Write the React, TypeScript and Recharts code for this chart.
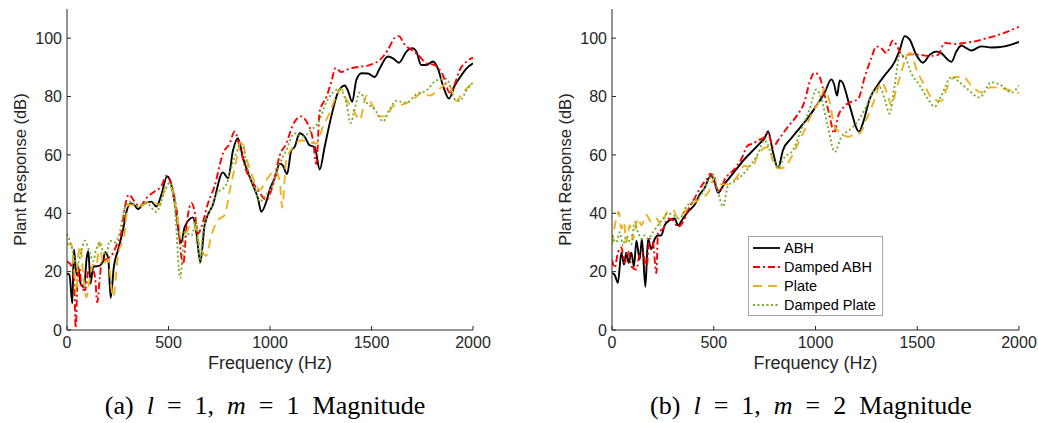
import React from 'react';
import { LineChart, Line, XAxis, YAxis, Legend } from 'recharts';

type Pt = [number, number];

const freqTicks = [0, 500, 1000, 1500, 2000];
const dbTicks = [0, 20, 40, 60, 80, 100];
const seriesNames = ['ABH', 'Damped ABH', 'Plate', 'Damped Plate'];

// (a) l = 1, m = 1
const abhA: Pt[] = [
  [0, 19.2], [12, 19], [26, 9.1], [34, 27.6], [47, 18.8], [55, 21.7], [67, 15.9], [84, 14.7], [97, 24.7],
  [105, 27], [116, 15.9], [129, 21.7], [158, 22], [178, 23.5], [187, 26.7], [203, 24.7], [215, 11], [231, 21.8],
  [252, 27.6], [277, 34.6], [293, 40.5], [313, 43.4], [330, 43], [350, 41.4], [374, 43], [415, 44], [440, 42.3],
  [465, 46.4], [493, 52.6], [506, 51.6], [530, 44], [563, 30], [580, 35.3], [621, 38.6], [637, 33.5], [657, 23.2],
  [678, 36], [719, 43], [768, 54], [793, 52], [818, 61.6], [842, 65.7], [867, 59], [908, 51], [941, 45],
  [957, 40.5], [982, 44], [998, 48], [1023, 52], [1048, 57], [1064, 56.3], [1084, 53.4], [1105, 61.6],
  [1121, 62.7], [1146, 67.4], [1171, 66.2], [1195, 63.3], [1220, 62.7], [1245, 55], [1269, 62.7], [1302, 73.2],
  [1335, 81.4], [1368, 83.8], [1384, 82], [1405, 78.2], [1425, 85.6], [1450, 88], [1483, 87.9], [1516, 86.7],
  [1540, 89.6], [1581, 93.7], [1606, 93.1], [1635, 91.6], [1672, 95.4], [1701, 96.6], [1721, 95.4], [1745, 90.8],
  [1770, 90.8], [1803, 92], [1827, 89.6], [1852, 83.8], [1882, 79.3], [1910, 83.8], [1943, 87.3], [1967, 89.6],
  [2000, 91.4],
];
const dampedAbhA: Pt[] = [
  [0, 23.5], [23, 21.8], [34, 18.2], [43, 0.7], [51, 15.9], [61, 21.2], [72, 14.7], [88, 13.6], [105, 20],
  [121, 21.2], [138, 18.2], [149, 9.5], [162, 18.2], [170, 22.9], [203, 24.7], [228, 26.5], [243, 28.9],
  [268, 33.5], [284, 41.7], [305, 46.4], [333, 44], [358, 42.3], [391, 45.2], [432, 47.5], [465, 49.3],
  [489, 52.8], [514, 49.9], [539, 41.7], [572, 22.4], [591, 37], [613, 43.5], [629, 40.5], [645, 33],
  [662, 35.3], [695, 43.5], [727, 49.3], [768, 60.4], [801, 63.9], [826, 68], [851, 62.7], [883, 54.6],
  [916, 50.5], [949, 47], [982, 44.6], [1015, 49.9], [1048, 59.8], [1080, 63.9], [1113, 70.3], [1154, 73.2],
  [1179, 71.5], [1212, 65], [1228, 56.9], [1245, 75], [1277, 79.7], [1302, 85], [1323, 89.8], [1351, 88.4],
  [1392, 89.6], [1442, 90.2], [1491, 90.8], [1540, 92.5], [1581, 96], [1614, 100.1], [1635, 100.7],
  [1663, 97.8], [1696, 96], [1729, 94.3], [1770, 91.4], [1811, 90.8], [1852, 87.3], [1885, 81.4], [1910, 84.3],
  [1934, 89], [1967, 91.9], [2000, 93.3],
];
const plateA: Pt[] = [
  [0, 29.4], [21, 29.4], [38, 18.3], [46, 12.5], [54, 24.2], [66, 28.9], [79, 19.5], [95, 11.3], [112, 17.2],
  [128, 22.4], [144, 21.8], [161, 30], [177, 22.4], [202, 24.2], [227, 11.3], [251, 25.4], [284, 33.5],
  [300, 42.9], [325, 42.9], [358, 42.3], [407, 44], [456, 42.9], [489, 49.3], [514, 48.7], [539, 40.5],
  [563, 31.2], [588, 33.5], [621, 37], [654, 28.9], [686, 25.4], [711, 32.4], [744, 37.6], [777, 39.4],
  [801, 47.5], [834, 58], [859, 65], [883, 59.2], [916, 52.2], [949, 48.1], [990, 52.2], [1023, 54.6],
  [1048, 51], [1060, 42], [1080, 58], [1113, 62.7], [1154, 65], [1187, 64.5], [1228, 63.9], [1261, 69.7],
  [1294, 74.4], [1327, 80.3], [1351, 82.6], [1376, 79], [1409, 75.6], [1442, 72], [1475, 80.3], [1507, 76.7],
  [1540, 73.2], [1573, 73.2], [1606, 76.7], [1655, 77.3], [1704, 79], [1753, 81.4], [1786, 80.3], [1836, 82.6],
  [1877, 84.9], [1918, 78.5], [1951, 81.4], [2000, 84.9],
];
const dampedPlateA: Pt[] = [
  [0, 32.9], [21, 28.9], [38, 24.2], [54, 23], [71, 27.1], [87, 30.6], [112, 26.5], [128, 23.6], [144, 27.7],
  [161, 30], [177, 27.1], [194, 25.9], [210, 30.6], [235, 30], [260, 33.5], [284, 41.7], [309, 44], [342, 42.3],
  [391, 43.5], [440, 40.5], [481, 47.5], [506, 50.5], [530, 42.9], [558, 17.8], [580, 33.5], [613, 32.4],
  [637, 37], [654, 23], [670, 33.5], [703, 40.5], [736, 46.4], [785, 49.9], [826, 59.2], [859, 63.9],
  [892, 54.6], [924, 48.7], [949, 44], [982, 46.4], [1015, 49.9], [1048, 57], [1080, 61.6], [1121, 67.4],
  [1162, 66.2], [1203, 68.6], [1236, 70.9], [1277, 77.9], [1310, 81.4], [1343, 82.6], [1376, 77.9],
  [1397, 70.9], [1417, 75.6], [1442, 81.4], [1475, 77.9], [1516, 75.6], [1557, 71.5], [1589, 75.6],
  [1622, 78.5], [1672, 77.9], [1721, 80.8], [1770, 82], [1819, 85.5], [1869, 86.1], [1910, 79.1], [1934, 78.5],
  [1967, 82], [2000, 84.9],
];

// (b) l = 1, m = 2
const abhB: Pt[] = [
  [0, 19.5], [13, 18.9], [29, 16.2], [46, 26.5], [59, 22.4], [70, 26.5], [82, 23], [95, 26.5], [108, 21.8],
  [120, 30.6], [136, 24.2], [147, 31.2], [164, 14.8], [177, 31.2], [193, 27.7], [210, 31.2], [226, 32.4],
  [242, 32.4], [259, 35.9], [283, 37.6], [308, 38.2], [324, 35.9], [349, 38.2], [373, 40.5], [406, 42.9],
  [431, 46.4], [455, 48.7], [485, 52.8], [501, 51.6], [521, 47], [545, 49.3], [578, 52.2], [611, 55.1],
  [652, 58.6], [685, 61], [709, 62.7], [734, 64.5], [750, 65.7], [767, 68], [791, 61], [816, 55.4], [840, 61.6],
  [881, 65.7], [922, 69.2], [963, 72.7], [1004, 76.8], [1045, 81.4], [1078, 85.9], [1091, 84.3], [1106, 80.3],
  [1119, 85.5], [1132, 84.9], [1168, 76.8], [1214, 68], [1233, 70.9], [1266, 79.1], [1304, 83.8], [1340, 87.3],
  [1389, 91.9], [1414, 96], [1438, 100.7], [1463, 99.5], [1495, 94.3], [1528, 91.6], [1561, 94.3], [1594, 95.4],
  [1618, 94.9], [1643, 93.1], [1668, 91.9], [1692, 95.4], [1717, 97.5], [1741, 96.6], [1766, 95.8], [1815, 97.2],
  [1864, 96.8], [1930, 97.2], [2000, 98.7],
];
const dampedAbhB: Pt[] = [
  [0, 24.2], [13, 21.3], [29, 26.5], [46, 28.3], [62, 23], [79, 27.1], [95, 21.8], [120, 20.7], [136, 25.9],
  [152, 26.5], [169, 21.3], [185, 31.2], [201, 30], [218, 19.5], [226, 33.5], [251, 34.7], [275, 38.2],
  [300, 37.6], [324, 35.3], [349, 37], [373, 41.1], [406, 45.2], [439, 49.3], [464, 51.6], [485, 53.6],
  [505, 49.9], [529, 47.5], [554, 51.6], [595, 54.6], [636, 58.6], [668, 63.3], [693, 63.9], [717, 65],
  [742, 65.7], [767, 67.4], [791, 62.7], [816, 65], [865, 69.7], [906, 73.2], [947, 78.5], [971, 84.9],
  [996, 88.2], [1020, 86.7], [1045, 80.3], [1070, 73.2], [1091, 67.4], [1111, 73.2], [1143, 76.7], [1176, 78.2],
  [1209, 79.1], [1242, 86.7], [1274, 93.1], [1299, 97.2], [1323, 96.6], [1348, 94.9], [1381, 99.2], [1405, 96.6],
  [1430, 93.7], [1463, 94.5], [1512, 94.3], [1561, 93.9], [1602, 94.3], [1635, 98.4], [1684, 98], [1733, 98.4],
  [1782, 98.9], [1831, 99.8], [1880, 100.7], [1930, 101.9], [2000, 103.9],
];
const plateB: Pt[] = [
  [0, 29.4], [21, 38.2], [33, 40.5], [46, 34.7], [59, 37], [70, 30], [87, 35.9], [103, 31.2], [128, 38.2],
  [144, 35.9], [169, 39.4], [193, 37], [218, 38.2], [242, 35.9], [267, 40], [300, 41.1], [324, 38.2], [357, 40.5],
  [390, 42.9], [439, 45.2], [472, 47], [505, 52.2], [529, 49.9], [562, 49.9], [611, 52.2], [652, 56.3],
  [685, 55.7], [717, 59.8], [742, 62.1], [767, 62.7], [791, 58], [816, 55.4], [848, 55.7], [881, 59.2],
  [914, 63.9], [947, 68.6], [980, 73.8], [1020, 78.5], [1045, 82.6], [1070, 77.9], [1094, 69.7], [1127, 67.4],
  [1160, 66.2], [1184, 66.8], [1217, 67.4], [1250, 72.1], [1291, 79.1], [1323, 84.9], [1356, 80.3], [1373, 76.8],
  [1397, 82.6], [1422, 88.4], [1447, 93.7], [1468, 94.9], [1495, 89.6], [1536, 83.8], [1577, 79.1], [1618, 78.5],
  [1651, 83.8], [1684, 86.7], [1725, 86.7], [1766, 83.8], [1815, 81.4], [1864, 83.2], [1930, 82.6], [2000, 81.2],
];
const dampedPlateB: Pt[] = [
  [0, 32.4], [21, 30], [38, 33.5], [54, 28.9], [70, 32.4], [95, 29.4], [111, 37], [128, 33.5], [144, 31.2],
  [160, 32.4], [177, 31.2], [201, 33.5], [226, 35.9], [251, 38.2], [275, 40], [300, 39.4], [332, 38.2],
  [365, 42.3], [398, 44], [439, 46.4], [472, 51], [496, 53.4], [521, 47.5], [545, 42.3], [570, 49.3], [603, 51],
  [644, 53.4], [685, 56.9], [717, 60.4], [750, 65], [783, 60.4], [816, 55.7], [848, 59.2], [889, 61.6],
  [930, 68.6], [971, 75.6], [1004, 82.4], [1029, 79.1], [1061, 69.7], [1094, 61], [1127, 66.2], [1168, 68.6],
  [1201, 70.9], [1242, 75.6], [1283, 81.4], [1315, 83.2], [1340, 79.1], [1364, 74.2], [1389, 83.8], [1414, 94.3],
  [1438, 93.7], [1471, 87.9], [1512, 83.8], [1553, 79.1], [1586, 76.5], [1618, 80.3], [1668, 86.7], [1708, 84.9],
  [1749, 82.4], [1807, 79.7], [1864, 84.9], [1913, 83.8], [1963, 81.4], [2000, 83.8],
];

const AXIS = '#262626';
const SANS = '"Liberation Sans", Arial, Helvetica, sans-serif';
const lineStyles = [
  { stroke: '#000000', dash: undefined as string | undefined },
  { stroke: '#ff0000', dash: '7 3 2 3' },
  { stroke: '#edb120', dash: '9 6' },
  { stroke: '#77ac30', dash: '2 2.5' },
];

const toRows = (pts: Pt[]) => pts.map(([f, db]) => ({ f, db }));

function LegendBox() {
  return (
    <div
      style={{
        border: '1px solid #a6a6a6',
        background: '#fff',
        padding: '1px 0 1px 4px',
        width: 135,
        boxSizing: 'border-box',
        fontFamily: SANS,
      }}
    >
      {seriesNames.map((name, i) => (
        <div key={name} style={{ display: 'flex', alignItems: 'center', height: 19 }}>
          <svg width={27} height={8}>
            <line x1={0} y1={4} x2={27} y2={4} stroke={lineStyles[i].stroke} strokeWidth={1.8} strokeDasharray={lineStyles[i].dash} />
          </svg>
          <span style={{ marginLeft: 4, fontSize: 14.5, color: '#000', whiteSpace: 'nowrap' }}>{name}</span>
        </div>
      ))}
    </div>
  );
}

function Panel({ series, width, right, legend }: { series: Pt[][]; width: number; right: number; legend?: boolean }) {
  return (
    <LineChart width={width} height={380} margin={{ top: 9, right, bottom: 8, left: 0 }} style={{ fontFamily: SANS }}>
      <XAxis
        type="number"
        dataKey="f"
        domain={[0, 2000]}
        ticks={freqTicks}
        allowDataOverflow
        height={42}
        stroke={AXIS}
        tickSize={-4}
        tickMargin={11}
        tick={{ fill: AXIS, fontSize: 16 }}
        label={{ value: 'Frequency (Hz)', position: 'insideBottom', offset: 3, fill: AXIS, fontSize: 18 }}
      />
      <XAxis
        xAxisId="top"
        orientation="top"
        type="number"
        dataKey="f"
        domain={[0, 2000]}
        ticks={freqTicks}
        height={0}
        stroke={AXIS}
        tickSize={-4}
        tick={false}
      />
      <YAxis
        type="number"
        domain={[0, 110]}
        ticks={dbTicks}
        allowDataOverflow
        width={67}
        stroke={AXIS}
        tickSize={-4}
        tickMargin={9}
        tick={{ fill: AXIS, fontSize: 16 }}
        label={{
          value: 'Plant Response (dB)',
          angle: -90,
          position: 'insideLeft',
          offset: 20,
          fill: AXIS,
          fontSize: 16.5,
          style: { textAnchor: 'middle' },
        }}
      />
      <YAxis
        yAxisId="right"
        orientation="right"
        type="number"
        domain={[0, 110]}
        ticks={dbTicks}
        width={0}
        stroke={AXIS}
        tickSize={-4}
        tick={false}
      />
      {series.map((s, i) => (
        <Line
          key={seriesNames[i]}
          name={seriesNames[i]}
          data={toRows(s)}
          dataKey="db"
          type="monotone"
          stroke={lineStyles[i].stroke}
          strokeWidth={1.9}
          strokeDasharray={lineStyles[i].dash}
          dot={false}
          isAnimationActive={false}
        />
      ))}
      {legend && (
        <Legend
          layout="vertical"
          align="center"
          verticalAlign="middle"
          content={() => <LegendBox />}
          wrapperStyle={{ position: 'absolute', left: 203, top: 236, width: 135, height: 79 }}
        />
      )}
    </LineChart>
  );
}

const captionStyle: React.CSSProperties = {
  position: 'absolute',
  top: 393,
  width: 530,
  textAlign: 'center',
  fontFamily: '"Liberation Serif", "Times New Roman", serif',
  fontSize: 26,
  lineHeight: '25px',
  wordSpacing: 6.5,
  color: '#000',
  whiteSpace: 'nowrap',
};

export default function App() {
  return (
    <div style={{ position: 'absolute', left: 0, top: 0, width: 1038, height: 423, background: '#fff', overflow: 'hidden' }}>
      <div style={{ position: 'absolute', left: 0, top: 0 }}>
        <Panel series={[abhA, dampedAbhA, plateA, dampedPlateA]} width={520} right={47} />
      </div>
      <div style={{ position: 'absolute', left: 545, top: 0 }}>
        <Panel series={[abhB, dampedAbhB, plateB, dampedPlateB]} width={493} right={19} legend />
      </div>
      <div style={{ ...captionStyle, left: 0 }}>
        (a) <i>l</i> = 1, <i>m</i> = 1 Magnitude
      </div>
      <div style={{ ...captionStyle, left: 546 }}>
        (b) <i>l</i> = 1, <i>m</i> = 2 Magnitude
      </div>
    </div>
  );
}
